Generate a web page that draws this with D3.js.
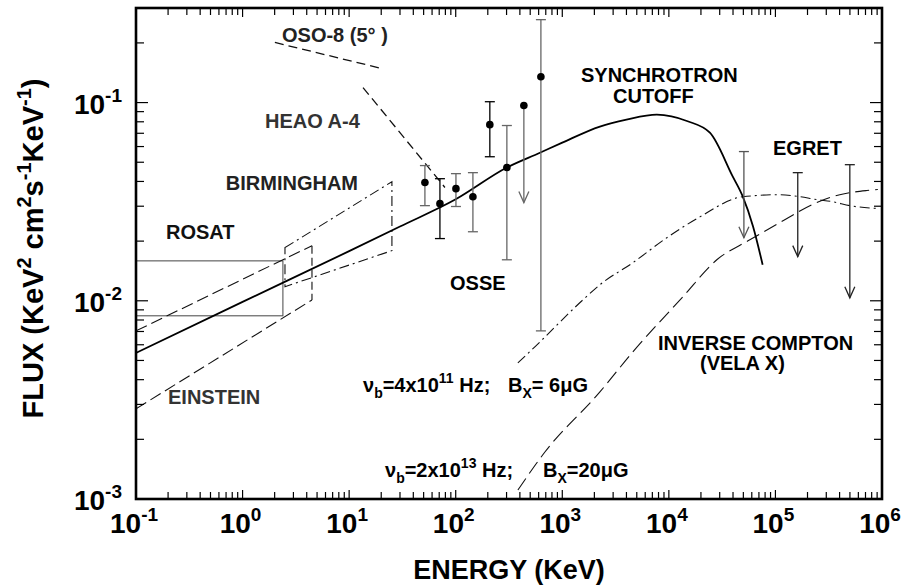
<!DOCTYPE html>
<html><head><meta charset="utf-8">
<script src="https://cdn.jsdelivr.net/npm/d3@7"></script>
<style>
body{margin:0;background:#fff}
text{font-family:"Liberation Sans",Arial,Helvetica,sans-serif;font-weight:bold}
</style>
</head><body>
<svg id="chart" width="908" height="585"></svg>
<script>
// ---------------- DATA ----------------
const xDecades = [-1, 0, 1, 2, 3, 4, 5, 6];          // x tick label exponents
const yDecades = [-3, -2, -1];                        // y tick label exponents

// Synchrotron model (keV, flux)
const synchrotron = [[0.1,0.00546],[1,0.00987],[10,0.0178],[30,0.0237],[100,0.0325],[302,0.047],
  [617,0.0558],[1000,0.0628],[2254,0.0757],[4000,0.082],[7709,0.0869],[15000,0.0805],[24266,0.0705],
  [39811,0.0423],[48978,0.0339],[61660,0.0237],[75860,0.0152]];

// Inverse Compton, nu_b=4e11 Hz, B=6 uG (dash-dot)
const ic6 = [[383,0.00486],[553,0.00586],[1560,0.0101],[2254,0.01205],[4592,0.01556],[9572,0.0208],
  [19540,0.0265],[49430,0.0335],[109900,0.0343],[169400,0.0335],[244300,0.0324],[345100,0.0316],
  [498900,0.0302],[914100,0.0292]];

// Inverse Compton, nu_b=2e13 Hz, B=20 uG (long dash)
const ic20 = [[383,0.00111],[687,0.001726],[2254,0.00347],[4592,0.00552],[13520,0.01047],[28180,0.0161],
  [57540,0.0203],[109900,0.0248],[244300,0.0313],[401800,0.0343],[719500,0.0360],[914100,0.0364]];

// OSSE points
const osseE  = [51.4, 71.1, 100.5, 145, 209, 302, 436, 630];
const osseF  = [0.0395, 0.0309, 0.0368, 0.0335, 0.0774, 0.047, 0.0966, 0.135];
const osseHi = [0.0481, 0.0413, 0.0438, 0.0443, 0.101, 0.0766, null, 0.262];
const osseLo = [0.0302, 0.0206, 0.0299, 0.0223, 0.0533, 0.0161, 0.0313, 0.00705];

// EGRET upper limits
const egretE  = [50600, 162000, 499000];
const egretHi = [0.0566, 0.0443, 0.0486];
const egretLo = [0.0208, 0.0167, 0.01035];

// Instrument bands
const rosatE = [0.1, 2.39], rosatF = [0.0084, 0.0159];
const einsteinUpper = [[0.1,0.00705],[4.48,0.01897]];
const einsteinLower = [[0.1,0.00285],[4.48,0.0101]];
const birmingham = [[2.5,0.01854],[25.2,0.0399],[25.2,0.0179],[2.5,0.01178]];
const oso8 = [[2.01,0.201],[20.3,0.1485]];
const heao = [[13.5,0.119],[79.2,0.0373]];

// ---------------- DRAW ----------------
const svg = d3.select("#chart");
const m = {l:136, r:882, t:8, b:499};
const x = d3.scaleLog().domain([1e-1,1e6]).range([m.l,m.r]);
const y = d3.scaleLog().domain([1e-3,0.3]).range([m.b,m.t]);

svg.append("defs").append("clipPath").attr("id","clip")
  .append("rect").attr("x",m.l).attr("y",m.t).attr("width",m.r-m.l).attr("height",m.b-m.t);
const g = svg.append("g").attr("clip-path","url(#clip)");

const line = d3.line().x(d=>x(d[0])).y(d=>y(d[1]));
const curve = d3.line().x(d=>x(d[0])).y(d=>y(d[1])).curve(d3.curveMonotoneX);

// ROSAT box
g.append("rect").attr("x",x(rosatE[0])).attr("y",y(rosatF[1]))
  .attr("width",x(rosatE[1])-x(rosatE[0])).attr("height",y(rosatF[0])-y(rosatF[1]))
  .attr("fill","none").attr("stroke","#555").attr("stroke-width",1.1);

// Einstein
g.append("path").attr("d",line(einsteinUpper)).attr("fill","none").attr("stroke","#111").attr("stroke-width",1.1).attr("stroke-dasharray","12,5");
g.append("path").attr("d",line(einsteinLower)).attr("fill","none").attr("stroke","#111").attr("stroke-width",1.1).attr("stroke-dasharray","12,5");
g.append("path").attr("d",line([einsteinUpper[1],einsteinLower[1]])).attr("fill","none").attr("stroke","#111").attr("stroke-width",1.1).attr("stroke-dasharray","8,4");

// Birmingham
g.append("path").attr("d",line(birmingham)+"Z").attr("fill","none").attr("stroke","#111").attr("stroke-width",1.1).attr("stroke-dasharray","10,4,2,4");

// OSO-8 and HEAO
g.append("path").attr("d",line(oso8)).attr("fill","none").attr("stroke","#111").attr("stroke-width",1.3).attr("stroke-dasharray","9,5");
g.append("path").attr("d",line(heao)).attr("fill","none").attr("stroke","#111").attr("stroke-width",1.3).attr("stroke-dasharray","9,5");

// IC curves
g.append("path").attr("d",curve(ic6)).attr("fill","none").attr("stroke","#111").attr("stroke-width",1.1).attr("stroke-dasharray","10,4,2,4");
g.append("path").attr("d",curve(ic20)).attr("fill","none").attr("stroke","#111").attr("stroke-width",1.1).attr("stroke-dasharray","14,6");

// Synchrotron
g.append("path").attr("d",curve(synchrotron)).attr("fill","none").attr("stroke","#000").attr("stroke-width",1.8);

// OSSE error bars
const darkBars = new Set([1,4]);
osseE.forEach((e,i)=>{
  const col = darkBars.has(i) ? "#000" : "#666";
  const cx = x(e);
  const top = osseHi[i]===null ? osseF[i] : osseHi[i];
  g.append("line").attr("x1",cx).attr("x2",cx).attr("y1",y(top)).attr("y2",y(osseLo[i])).attr("stroke",col).attr("stroke-width",1.3);
  if (osseHi[i]!==null) {
    g.append("line").attr("x1",cx-5).attr("x2",cx+5).attr("y1",y(osseHi[i])).attr("y2",y(osseHi[i])).attr("stroke",col).attr("stroke-width",1.3);
    g.append("line").attr("x1",cx-5).attr("x2",cx+5).attr("y1",y(osseLo[i])).attr("y2",y(osseLo[i])).attr("stroke",col).attr("stroke-width",1.3);
  } else {
    const yl = y(osseLo[i]);
    g.append("path").attr("d",`M${cx-5},${yl-11}L${cx},${yl}L${cx+5},${yl-11}`).attr("fill","none").attr("stroke",col).attr("stroke-width",1.3);
  }
  g.append("circle").attr("cx",cx).attr("cy",y(osseF[i])).attr("r",3.8).attr("fill","#000");
});

// EGRET upper limits
egretE.forEach((e,i)=>{
  const cx = x(e), col = i===0 ? "#555" : "#222";
  g.append("line").attr("x1",cx).attr("x2",cx).attr("y1",y(egretHi[i])).attr("y2",y(egretLo[i])).attr("stroke",col).attr("stroke-width",1.3);
  g.append("line").attr("x1",cx-5).attr("x2",cx+5).attr("y1",y(egretHi[i])).attr("y2",y(egretHi[i])).attr("stroke",col).attr("stroke-width",1.3);
  const yl = y(egretLo[i]);
  g.append("path").attr("d",`M${cx-5},${yl-11}L${cx},${yl}L${cx+5},${yl-11}`).attr("fill","none").attr("stroke",col).attr("stroke-width",1.3);
});

// ---------------- AXES ----------------
const isMajor = v => Math.abs(Math.log10(v)-Math.round(Math.log10(v)))<1e-9;
const xt = x.ticks().filter(v=>v>1e-1 && v<1e6);
const yt = y.ticks().filter(v=>v>1e-3 && v<0.3);
const axes = svg.append("g").attr("stroke","#000").attr("stroke-width",1.2);
xt.forEach(v=>{
  const L = isMajor(v) ? 9 : 7;
  axes.append("line").attr("x1",x(v)).attr("x2",x(v)).attr("y1",m.b).attr("y2",m.b-L);
  axes.append("line").attr("x1",x(v)).attr("x2",x(v)).attr("y1",m.t).attr("y2",m.t+L);
});
yt.forEach(v=>{
  const L = isMajor(v) ? 12 : 8;
  axes.append("line").attr("y1",y(v)).attr("y2",y(v)).attr("x1",m.l).attr("x2",m.l+L);
  axes.append("line").attr("y1",y(v)).attr("y2",y(v)).attr("x1",m.r).attr("x2",m.r-L);
});
svg.append("rect").attr("x",m.l).attr("y",m.t).attr("width",m.r-m.l).attr("height",m.b-m.t)
  .attr("fill","none").attr("stroke","#000").attr("stroke-width",2.6);

// tick labels
xDecades.forEach(p=>{
  const t = svg.append("text").attr("x",x(Math.pow(10,p))-2).attr("y",533).attr("text-anchor","middle").attr("font-size",28);
  t.append("tspan").text("10");
  t.append("tspan").attr("font-size",19).attr("dy",-12).text(p<0? "-"+(-p) : String(p));
});
yDecades.forEach(p=>{
  const t = svg.append("text").attr("x",122).attr("y",y(Math.pow(10,p))+11).attr("text-anchor","end").attr("font-size",28);
  t.append("tspan").text("10");
  t.append("tspan").attr("font-size",19).attr("dy",-12).text("-"+(-p));
});

// axis titles
svg.append("text").attr("x",(m.l+m.r)/2).attr("y",579).attr("text-anchor","middle").attr("font-size",27).text("ENERGY (KeV)");
const yt2 = svg.append("text").attr("transform",`translate(43,${(m.t+m.b)/2 - 5}) rotate(-90)`).attr("text-anchor","middle").attr("font-size",29);
[["FLUX (KeV",0],["2",1],[" cm",0],["2",1],["s",0],["-1",1],["KeV",0],["-1",1],[")",0]].forEach(([s,sup],i,arr)=>{
  const ts = yt2.append("tspan").text(s);
  if (sup) ts.attr("font-size",20).attr("dy",-12);
  else if (i>0 && arr[i-1][1]) ts.attr("dy",12);
});

// annotations
const lab = (t,xx,yy,col="#000",anchor="start") => svg.append("text").attr("x",xx).attr("y",yy).attr("font-size",20).attr("fill",col).attr("text-anchor",anchor).text(t);
lab("OSO-8 (5° )",282,42,"#222");
lab("HEAO A-4",265,128,"#333");
lab("BIRMINGHAM",358,190,"#222","end");
lab("ROSAT",166,239,"#111");
lab("EINSTEIN",168,404,"#333");
lab("OSSE",450,290);
lab("SYNCHROTRON",581,82);
lab("CUTOFF",613,103);
lab("EGRET",773,155);
lab("INVERSE COMPTON",658,350);
lab("(VELA X)",700,370);

function nuLabel(xx,yy,nb,exp){
  const t = svg.append("text").attr("x",xx).attr("y",yy).attr("font-size",20);
  t.append("tspan").text("ν");
  t.append("tspan").attr("font-size",14).attr("dy",6).text("b");
  t.append("tspan").attr("dy",-6).text("="+nb+"x10");
  t.append("tspan").attr("font-size",14).attr("dy",-9).text(exp);
  t.append("tspan").attr("dy",9).text(" Hz;");
}
function bLabel(xx,yy,val){
  const t = svg.append("text").attr("x",xx).attr("y",yy).attr("font-size",20);
  t.append("tspan").text("B");
  t.append("tspan").attr("font-size",14).attr("dy",6).text("X");
  t.append("tspan").attr("dy",-6).text("="+val);
}
nuLabel(363,392,"4","11");
bLabel(508,392,"\u00a06μG");
nuLabel(385,477,"2","13");
bLabel(543,477,"20μG");
</script>
</body></html>
